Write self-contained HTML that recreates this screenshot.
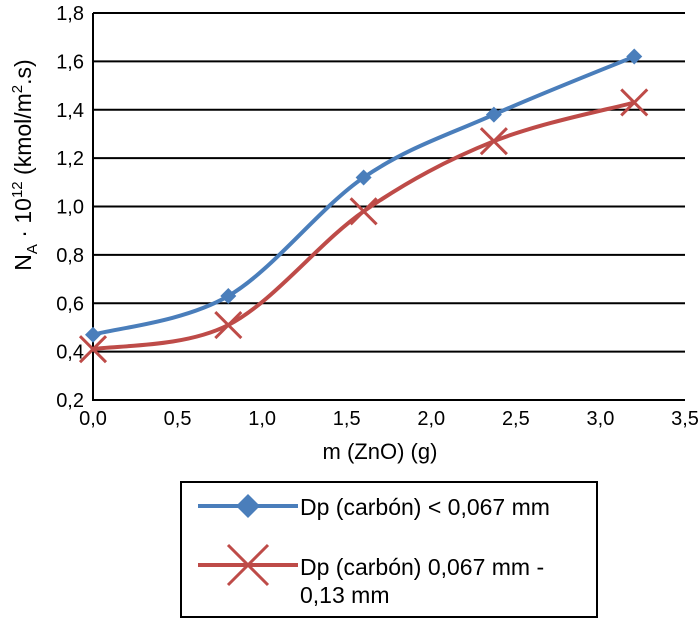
<!DOCTYPE html>
<html><head><meta charset="utf-8"><style>
body{margin:0;background:#fff;font-family:"Liberation Sans",sans-serif}
svg{display:block}
</style></head><body>
<svg id="c" width="700" height="619"></svg>
<script>
const xTicks=["0,0","0,5","1,0","1,5","2,0","2,5","3,0","3,5"];
const yTicks=["0,2","0,4","0,6","0,8","1,0","1,2","1,4","1,6","1,8"];
const xs=[0,0.8,1.6,2.37,3.2];
const blue=[0.47,0.63,1.12,1.38,1.62];
const red=[0.41,0.51,0.98,1.27,1.43];
const NS="http://www.w3.org/2000/svg",svg=document.getElementById('c');
const X=v=>93+v*(685-93)/3.5, Y=v=>400-(v-0.2)*(400-13)/1.6;
function el(t,a,p){const e=document.createElementNS(NS,t);for(const k in a)e.setAttribute(k,a[k]);(p||svg).appendChild(e);return e;}
yTicks.forEach((t,i)=>{const v=0.2+i*0.2,y=Y(v);
 const g=el('line',{x1:93,x2:685,y1:y,y2:y,stroke:'#000','stroke-width':2});
 
 
 const tx=el('text',{x:84,y:y+7,'text-anchor':'end','font-size':20});tx.textContent=t;
 
 
});
const ax=el('line',{x1:93,x2:93,y1:13,y2:401,stroke:'#000','stroke-width':2});


xTicks.forEach((t,i)=>{const tx=el('text',{x:X(i*0.5),y:425,'text-anchor':'middle','font-size':20});tx.textContent=t;
 
 });
const xt=el('text',{x:380,y:459,'text-anchor':'middle','font-size':22});xt.textContent='m (ZnO) (g)';


const yt=el('text',{transform:'translate(31,165) rotate(-90)','text-anchor':'middle','font-size':23});
yt.innerHTML='N<tspan font-size="15" dy="6">A</tspan><tspan dy="-6"> · 10</tspan><tspan font-size="15" dy="-9">12</tspan><tspan dy="9"> (kmol/m</tspan><tspan font-size="15" dy="-9">2</tspan><tspan dy="9">.s)</tspan>';


function path(vals){const p=xs.map((x,i)=>[X(x),Y(vals[i])]);let d='M'+p[0];
 for(let i=0;i<p.length-1;i++){const p0=p[i-1]||p[i],p1=p[i],p2=p[i+1],p3=p[i+2]||p2,k=6;
 d+=`C${p1[0]+(p2[0]-p0[0])/k},${p1[1]+(p2[1]-p0[1])/k} ${p2[0]-(p3[0]-p1[0])/k},${p2[1]-(p3[1]-p1[1])/k} ${p2}`;}return d;}
const lb=el('path',{d:path(blue),fill:'none',stroke:'#4a7ebb','stroke-width':4});


const lr=el('path',{d:path(red),fill:'none',stroke:'#be4b48','stroke-width':4});


function diamond(x,y,s){return el('polygon',{points:`${x},${y-s} ${x+s},${y} ${x},${y+s} ${x-s},${y}`,fill:'#4a7ebb'});}
function cross(x,y,s){return el('path',{d:`M${x-s},${y-s}L${x+s},${y+s}M${x-s},${y+s}L${x+s},${y-s}`,stroke:'#be4b48','stroke-width':3,fill:'none'});}
xs.forEach((x,i)=>{const d=diamond(X(x),Y(blue[i]),8);
 
 
 const c=cross(X(x),Y(red[i]),13);
 
 });
const lg=el('g',{});


el('rect',{x:181,y:482,width:416,height:135,fill:'#fff',stroke:'#000','stroke-width':2},lg);
el('line',{x1:198,x2:298,y1:506,y2:506,stroke:'#4a7ebb','stroke-width':4},lg);
lg.appendChild(diamond(248,506,12));
el('line',{x1:198,x2:298,y1:565,y2:565,stroke:'#be4b48','stroke-width':4},lg);
lg.appendChild(cross(248,565,20));
const t1=el('text',{x:300,y:515,'font-size':23},lg);t1.textContent='Dp (carbón) < 0,067 mm';


const t2=el('text',{x:300,y:575,'font-size':23},lg);t2.innerHTML='Dp (carbón) 0,067 mm -<tspan x="300" dy="28">0,13 mm</tspan>';


</script>
</body></html>
